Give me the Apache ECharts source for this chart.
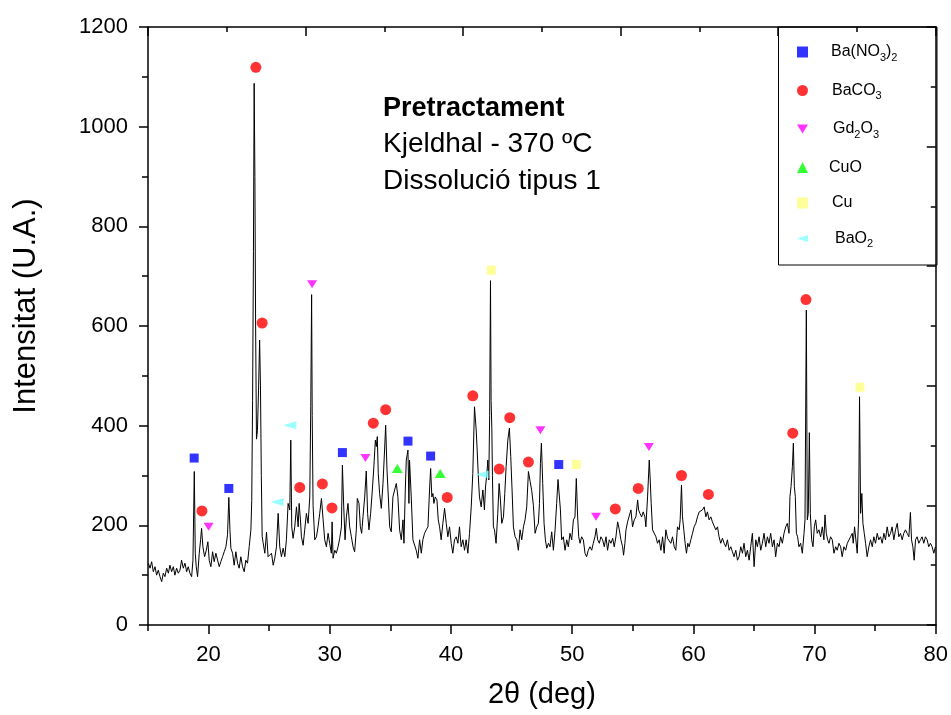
<!DOCTYPE html>
<html>
<head>
<meta charset="utf-8">
<script src="https://cdn.jsdelivr.net/npm/echarts@6/dist/echarts.min.js"></script>
<style>html,body{margin:0;padding:0;background:#fff;}#c{width:951px;height:715px;}</style>
</head>
<body>
<div id="c"></div>
<script>
// ---- XRD trace: [2theta, intensity] ----
const trace15 = [[15.03,124],[15.17,114],[15.30,127],[15.44,107],[15.58,117],[15.71,100],[15.85,110],[15.99,97],[16.13,87],[16.26,104],[16.40,97],[16.54,114],[16.68,104],[16.81,120],[16.95,107],[17.09,117],[17.22,100],[17.36,114],[17.50,104],[17.64,110],[17.77,130],[17.91,114],[18.05,124],[18.19,107],[18.32,117],[18.46,104],[18.60,97],[18.71,130],[18.82,308],[18.90,144],[18.98,117],[19.09,97],[19.23,144],[19.34,171],[19.42,194],[19.53,157],[19.67,137],[19.81,150],[19.94,167],[20.05,130],[20.19,117],[20.33,147],[20.46,127],[20.60,144],[20.74,147],[20.88,117],[21.01,127],[21.15,137],[21.29,147],[21.43,157],[21.56,181],[21.67,256],[21.76,191],[21.84,154],[21.98,144],[22.11,120],[22.25,147],[22.39,124],[22.52,114],[22.66,137],[22.80,117],[22.94,107],[23.07,130],[23.21,124],[23.35,157],[23.49,191],[23.56,250],[23.63,450],[23.70,750],[23.76,1087],[23.82,900],[23.88,600],[23.95,373],[24.03,390],[24.12,470],[24.21,572],[24.28,480],[24.35,300],[24.42,178],[24.50,165],[24.64,144],[24.78,186],[24.91,137]];
const trace25 = [[25.05,134],[25.19,144],[25.33,120],[25.46,134],[25.60,157],[25.74,224],[25.87,157],[26.01,137],[26.15,154],[26.29,137],[26.42,171],[26.56,244],[26.70,231],[26.78,371],[26.86,197],[26.97,174],[27.11,197],[27.25,237],[27.39,197],[27.47,244],[27.58,211],[27.66,177],[27.80,160],[27.93,191],[28.07,224],[28.21,204],[28.35,257],[28.43,438],[28.50,663],[28.55,420],[28.62,240],[28.76,171],[28.90,177],[29.03,197],[29.17,224],[29.31,254],[29.45,211],[29.58,171],[29.72,157],[29.86,184],[29.99,164],[30.13,144],[30.19,207],[30.27,134],[30.41,150],[30.54,144],[30.68,157],[30.82,174],[30.96,197],[31.04,321],[31.15,237],[31.26,171],[31.37,217],[31.50,244],[31.64,197],[31.78,177],[31.92,157],[32.05,147],[32.19,191],[32.27,254],[32.41,244],[32.52,197],[32.63,184],[32.74,217],[32.88,257],[33.01,309],[33.12,224],[33.23,191],[33.37,224],[33.51,271],[33.62,311],[33.76,371],[33.84,358],[33.92,378],[34.00,304],[34.11,264],[34.25,234],[34.39,284],[34.52,351],[34.61,401],[34.72,311],[34.83,257],[34.94,197],[35.07,187],[35.21,257],[35.35,271],[35.49,284],[35.62,257]];
const trace35 = [[35.76,191],[35.90,171],[36.04,211],[36.12,164],[36.23,271],[36.31,331],[36.45,351],[36.53,244],[36.58,331],[36.72,257],[36.86,171],[37.00,171],[37.13,150],[37.27,134],[37.41,171],[37.55,144],[37.68,171],[37.82,184],[37.96,191],[38.10,197],[38.23,271],[38.32,314],[38.42,257],[38.51,264],[38.59,244],[38.70,257],[38.84,251],[38.95,211],[39.06,197],[39.19,171],[39.33,204],[39.47,234],[39.61,204],[39.74,177],[39.88,197],[40.02,164],[40.15,144],[40.29,171],[40.43,177],[40.57,164],[40.70,197],[40.84,157],[40.98,171],[41.12,150],[41.25,171],[41.39,144],[41.53,184],[41.67,237],[41.80,304],[41.94,438],[41.99,441],[42.08,391],[42.16,351],[42.27,291],[42.35,257],[42.49,237],[42.63,271],[42.76,231],[42.85,277],[42.96,304],[43.04,331],[43.12,291],[43.19,420],[43.26,691],[43.31,450],[43.37,395],[43.42,300],[43.50,197],[43.59,191],[43.72,164],[43.86,224],[43.97,284],[44.08,251],[44.19,204],[44.33,217],[44.44,264],[44.55,318],[44.69,371],[44.82,395],[44.93,338]];
const trace45 = [[45.04,271],[45.15,197],[45.29,177],[45.43,171],[45.56,150],[45.70,191],[45.84,171],[45.98,197],[46.11,211],[46.25,237],[46.39,308],[46.53,288],[46.66,270],[46.80,240],[46.94,184],[47.08,197],[47.21,204],[47.30,244],[47.38,324],[47.46,365],[47.57,284],[47.68,204],[47.79,171],[47.90,154],[48.04,164],[48.17,157],[48.31,187],[48.45,150],[48.59,191],[48.72,244],[48.83,292],[48.94,291],[49.03,231],[49.13,171],[49.27,177],[49.41,150],[49.55,171],[49.68,157],[49.82,184],[49.96,171],[50.10,211],[50.23,217],[50.34,294],[50.45,217],[50.54,177],[50.65,164],[50.78,177],[50.92,171],[51.06,144],[51.19,137],[51.33,150],[51.47,157],[51.61,150],[51.74,164],[51.88,177],[51.99,194],[52.10,171],[52.24,164],[52.37,177],[52.51,171],[52.65,157],[52.79,177],[52.92,150],[53.06,171],[53.20,164],[53.34,174],[53.47,157],[53.61,177],[53.75,207],[53.89,191],[54.02,171],[54.16,157],[54.24,140],[54.35,164],[54.44,191],[54.57,207],[54.71,204],[54.85,231],[54.98,197]];
const trace55 = [[55.12,211],[55.26,217],[55.40,251],[55.48,231],[55.59,224],[55.73,217],[55.86,227],[56.00,217],[56.08,197],[56.22,257],[56.36,331],[56.44,291],[56.52,244],[56.63,191],[56.77,191],[56.91,177],[57.04,164],[57.18,171],[57.32,150],[57.46,177],[57.59,144],[57.73,191],[57.87,174],[58.00,177],[58.14,164],[58.28,177],[58.42,157],[58.55,150],[58.69,197],[58.83,191],[58.91,211],[59.02,281],[59.10,217],[59.21,191],[59.32,164],[59.43,144],[59.54,164],[59.65,157],[59.79,171],[59.93,184],[60.06,197],[60.20,204],[60.34,217],[60.48,227],[60.61,224],[60.75,231],[60.89,237],[61.03,217],[61.16,227],[61.30,211],[61.44,217],[61.57,207],[61.71,204],[61.85,191],[61.99,197],[62.12,177],[62.26,164],[62.40,174],[62.54,164],[62.67,157],[62.81,171],[62.95,150],[63.09,157],[63.22,147],[63.36,137],[63.50,150],[63.64,130],[63.77,137],[63.91,157],[64.05,144],[64.18,164],[64.32,137],[64.46,150],[64.60,130],[64.73,157],[64.87,184]];
const trace65 = [[65.01,117],[65.15,171],[65.28,157],[65.42,177],[65.56,150],[65.69,164],[65.83,184],[65.97,157],[66.11,177],[66.24,164],[66.38,184],[66.52,157],[66.66,171],[66.79,137],[66.93,164],[67.07,157],[67.20,177],[67.34,164],[67.48,184],[67.62,197],[67.75,204],[67.89,184],[67.97,258],[68.06,278],[68.17,318],[68.25,365],[68.33,278],[68.41,258],[68.50,184],[68.60,177],[68.71,157],[68.85,164],[68.99,144],[69.13,184],[69.21,211],[69.32,632],[69.40,211],[69.48,224],[69.57,386],[69.65,224],[69.76,171],[69.87,157],[69.98,197],[70.09,211],[70.22,184],[70.36,191],[70.50,177],[70.64,197],[70.77,171],[70.86,221],[70.97,184],[71.08,171],[71.19,164],[71.32,177],[71.46,171],[71.60,144],[71.74,157],[71.87,150],[72.01,164],[72.15,157],[72.28,137],[72.42,157],[72.56,150],[72.70,164],[72.83,164],[72.97,177],[73.11,184],[73.19,164],[73.30,197],[73.44,197],[73.52,144],[73.63,211],[73.71,458],[73.80,224],[73.90,264],[73.99,204],[74.10,184],[74.21,164],[74.34,137],[74.48,157],[74.62,171],[74.76,157],[74.89,177]];
const trace75 = [[75.03,164],[75.17,184],[75.30,171],[75.44,177],[75.58,164],[75.72,184],[75.85,171],[75.99,197],[76.13,177],[76.27,184],[76.40,197],[76.54,171],[76.68,191],[76.82,204],[76.95,177],[77.09,184],[77.23,171],[77.36,184],[77.50,191],[77.64,184],[77.78,177],[77.91,226],[78.00,171],[78.11,157],[78.22,130],[78.33,171],[78.46,177],[78.60,164],[78.74,171],[78.87,177],[79.01,164],[79.15,177],[79.29,171],[79.42,157],[79.56,164],[79.70,157],[79.84,144],[79.97,157]];

// ---- phase markers [2theta, intensity] ----
const baNO3 = [[18.81,335],[21.67,274],[31.04,346],[36.45,369],[38.32,339],[48.89,322]];
const baCO3 = [[19.45,229],[23.90,1119],[24.42,606],[27.52,276],[29.39,283],[30.18,235],[33.59,405],[34.61,432],[39.69,256],[41.80,460],[43.98,313],[44.85,416],[46.39,327],[53.56,233],[55.45,274],[59.02,300],[61.24,262],[68.20,385],[69.29,653]];
const gd2O3 = [[20.00,197],[28.54,684],[32.94,335],[47.38,391],[51.97,217],[56.33,357]];
const cuO = [[35.57,314],[39.11,304]];
const cu = [[43.32,712],[50.34,322],[73.74,477]];
const baO2 = [[25.65,247],[26.70,401],[42.57,302]];

// ---- axis ticks / labels ----
const xMajor = [20, 30, 40, 50, 60, 70, 80];
const xMinor = [15, 25, 35, 45, 55, 65, 75];
const phaseNames = ['Ba(NO3)2', 'BaCO3', 'Gd2O3', 'CuO', 'Cu', 'BaO2'];
const phaseLabels = {
  'Ba(NO3)2': '{p1| }{n|Ba(NO}{s|3}{n|)}{s|2}',
  'BaCO3': '{p2| }{n|BaCO}{s|3}',
  'Gd2O3': '{p3| }{n|Gd}{s|2}{n|O}{s|3}',
  'CuO': '{p0| }{n|CuO}',
  'Cu': '{p2| }{n|Cu}',
  'BaO2': '{p4| }{n|BaO}{s|2}'
};
const annotation = ['Pretractament', 'Kjeldhal - 370 ºC', 'Dissolució tipus 1'];

const FONT = '"Liberation Sans", Arial, sans-serif';
const DOWN_TRI = 'path://M0,0L10,0L5,8Z';
const LEFT_TRI = 'path://M0,4L13,0L13,8Z';

const chart = echarts.init(document.getElementById('c'), null, {renderer: 'canvas'});
const axisLineStyle = {color: '#000', width: 1.5};
const tickStyle = {color: '#000', width: 1.5};

const option = {
  animation: false,
  backgroundColor: '#fff',
  grid: {left: 148, right: 14, top: 27, bottom: 90, containLabel: false},
  xAxis: [
    {
      type: 'value', position: 'bottom', min: 15, max: 80, interval: 5,
      axisLine: {show: true, onZero: false, lineStyle: axisLineStyle},
      axisTick: {show: true, length: 9, customValues: xMajor, lineStyle: tickStyle},
      axisLabel: {show: true, customValues: xMajor, fontSize: 22, fontFamily: FONT, color: '#000', margin: 19},
      splitLine: {show: false},
      name: '2θ (deg)', nameLocation: 'middle', nameGap: 55,
      nameTextStyle: {fontSize: 29, fontFamily: FONT, color: '#000'}
    },
    {
      type: 'value', position: 'bottom', min: 15, max: 80,
      axisLine: {show: false, onZero: false},
      axisTick: {show: true, length: 6, customValues: xMinor, lineStyle: tickStyle},
      axisLabel: {show: false},
      splitLine: {show: false}
    },
    {
      type: 'value', position: 'top', min: 0, max: 10, interval: 2,
      axisLine: {show: true, onZero: false, lineStyle: axisLineStyle},
      axisTick: {show: true, inside: true, length: 9, lineStyle: tickStyle},
      minorTick: {show: true, splitNumber: 2, length: 5, lineStyle: tickStyle},
      axisLabel: {show: false},
      splitLine: {show: false}
    }
  ],
  yAxis: [
    {
      type: 'value', position: 'left', min: 0, max: 1200, interval: 200,
      axisLine: {show: true, onZero: false, lineStyle: axisLineStyle},
      axisTick: {show: true, length: 9, lineStyle: tickStyle},
      minorTick: {show: true, splitNumber: 2, length: 6, lineStyle: tickStyle},
      axisLabel: {fontSize: 22, fontFamily: FONT, color: '#000', margin: 20, formatter: v => String(v)},
      splitLine: {show: false},
      name: 'Intensitat (U.A.)', nameLocation: 'middle', nameRotate: 90, nameGap: 106,
      nameTextStyle: {fontSize: 31, fontFamily: FONT, color: '#000', padding: [0, 0, 0, 40]}
    },
    {
      type: 'value', position: 'right', min: 0, max: 10, interval: 2,
      axisLine: {show: true, onZero: false, lineStyle: axisLineStyle},
      axisTick: {show: true, inside: true, length: 9, lineStyle: tickStyle},
      minorTick: {show: true, splitNumber: 2, length: 5, lineStyle: tickStyle},
      axisLabel: {show: false},
      splitLine: {show: false}
    }
  ],
  legend: {
    show: true, orient: 'vertical', left: 797, top: 44,
    itemWidth: 11, itemHeight: 11, itemGap: 19.5, padding: 0,
    selectedMode: false,
    data: [
      {name: 'Ba(NO3)2', icon: 'rect'},
      {name: 'BaCO3', icon: 'circle'},
      {name: 'Gd2O3', icon: DOWN_TRI},
      {name: 'CuO', icon: 'triangle'},
      {name: 'Cu', icon: 'rect'},
      {name: 'BaO2', icon: LEFT_TRI}
    ],
    formatter: name => phaseLabels[name],
    textStyle: {
      color: '#000', fontFamily: FONT, fontSize: 16,
      rich: {
        n: {fontSize: 16, fontFamily: FONT, color: '#000', lineHeight: 22},
        s: {fontSize: 11, fontFamily: FONT, color: '#000', lineHeight: 12, verticalAlign: 'bottom'},
        p0: {width: 16, lineHeight: 22},
        p1: {width: 18, lineHeight: 22},
        p2: {width: 19, lineHeight: 22},
        p3: {width: 20, lineHeight: 22},
        p4: {width: 22, lineHeight: 22}
      }
    }
  },
  graphic: [
    {type: 'rect', silent: true, z: 0, shape: {x: 778.5, y: 27, width: 158.5, height: 238}, style: {fill: 'none', stroke: '#000', lineWidth: 1}},
    {type: 'text', left: 383, top: 95, style: {text: annotation[0], font: 'bold 27px ' + FONT, fill: '#000'}},
    {type: 'text', left: 383, top: 130, style: {text: annotation[1], font: '28px ' + FONT, fill: '#000'}},
    {type: 'text', left: 383, top: 167, style: {text: annotation[2], font: '28px ' + FONT, fill: '#000'}}
  ],
  series: [
    {
      name: 'trace', type: 'line', xAxisIndex: 0, yAxisIndex: 0,
      data: [].concat(trace15, trace25, trace35, trace45, trace55, trace65, trace75),
      showSymbol: false, symbol: 'none', smooth: false, z: 2,
      lineStyle: {color: '#000', width: 1}, silent: true
    },
    {name: 'Ba(NO3)2', type: 'scatter', data: baNO3, symbol: 'rect', symbolSize: 9, itemStyle: {color: '#0000ff'}, z: 5},
    {name: 'BaCO3', type: 'scatter', data: baCO3, symbol: 'circle', symbolSize: 11, itemStyle: {color: '#ff0000'}, z: 5},
    {name: 'Gd2O3', type: 'scatter', data: gd2O3, symbol: DOWN_TRI, symbolSize: [10, 8], itemStyle: {color: '#ff00ff'}, z: 5},
    {name: 'CuO', type: 'scatter', data: cuO, symbol: 'triangle', symbolSize: [11, 9], itemStyle: {color: '#00ff00'}, z: 5},
    {name: 'Cu', type: 'scatter', data: cu, symbol: 'rect', symbolSize: 9, itemStyle: {color: '#ffff80'}, z: 5},
    {name: 'BaO2', type: 'scatter', data: baO2, symbol: LEFT_TRI, symbolSize: [13, 8], itemStyle: {color: '#80ffff'}, z: 5}
  ]
};
chart.setOption(option);
</script>
</body>
</html>
